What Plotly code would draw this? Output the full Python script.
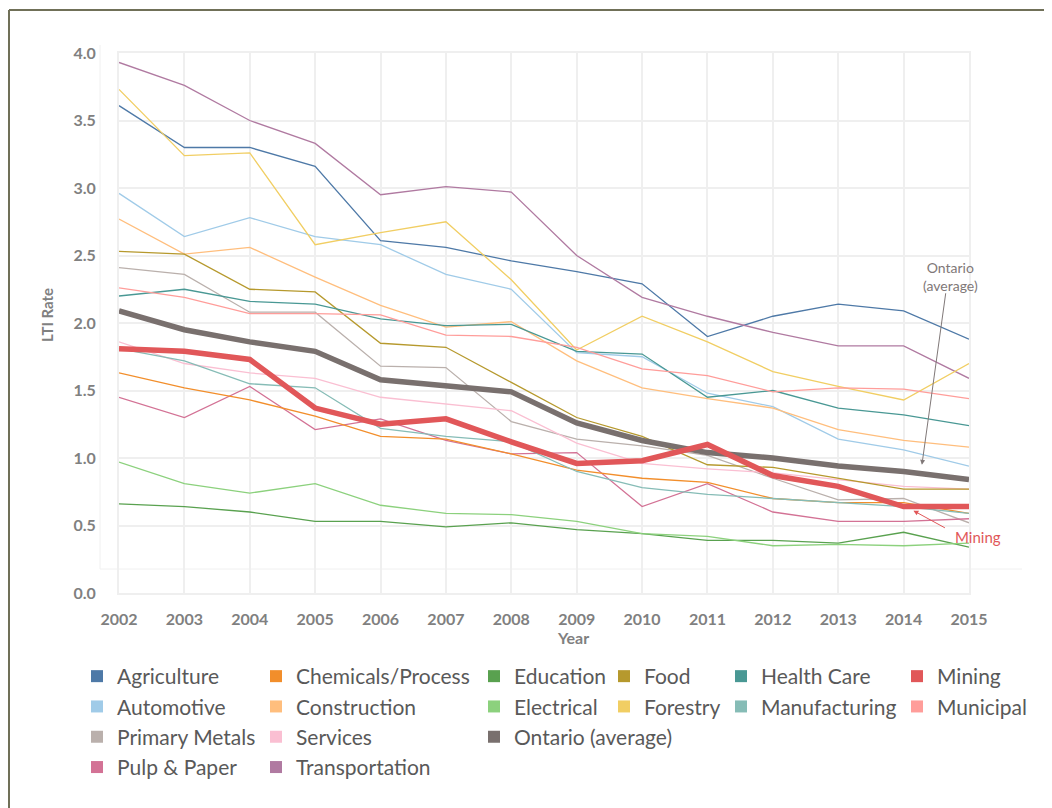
import plotly.graph_objects as go

years = list(range(2002, 2016))

agriculture = [3.61, 3.30, 3.30, 3.16, 2.61, 2.56, 2.46, 2.38, 2.29, 1.90, 2.05, 2.14, 2.09, 1.88]
automotive = [2.96, 2.64, 2.78, 2.64, 2.58, 2.36, 2.25, 1.78, 1.75, 1.48, 1.38, 1.14, 1.06, 0.94]
primary_metals = [2.41, 2.36, 2.08, 2.08, 1.68, 1.67, 1.27, 1.14, 1.09, 1.02, 0.85, 0.69, 0.70, 0.52]
pulp_paper = [1.45, 1.30, 1.53, 1.21, 1.29, 1.13, 1.03, 1.04, 0.64, 0.81, 0.60, 0.53, 0.53, 0.55]
chemicals = [1.63, 1.52, 1.43, 1.31, 1.16, 1.14, 1.03, 0.91, 0.85, 0.82, 0.70, 0.67, 0.67, 0.59]
construction = [2.77, 2.51, 2.56, 2.34, 2.13, 1.97, 2.01, 1.72, 1.52, 1.44, 1.37, 1.21, 1.13, 1.08]
services = [1.86, 1.70, 1.63, 1.59, 1.45, 1.40, 1.35, 1.11, 0.96, 0.92, 0.89, 0.84, 0.79, 0.77]
transportation = [3.93, 3.76, 3.50, 3.33, 2.95, 3.01, 2.97, 2.50, 2.19, 2.05, 1.93, 1.83, 1.83, 1.59]
education = [0.66, 0.64, 0.60, 0.53, 0.53, 0.49, 0.52, 0.47, 0.44, 0.39, 0.39, 0.37, 0.45, 0.34]
electrical = [0.97, 0.81, 0.74, 0.81, 0.65, 0.59, 0.58, 0.53, 0.44, 0.42, 0.35, 0.36, 0.35, 0.37]
food = [2.53, 2.51, 2.25, 2.23, 1.85, 1.82, 1.56, 1.30, 1.16, 0.95, 0.93, 0.85, 0.77, 0.77]
forestry = [3.73, 3.24, 3.26, 2.58, 2.67, 2.75, 2.32, 1.80, 2.05, 1.86, 1.64, 1.53, 1.43, 1.70]
health_care = [2.20, 2.25, 2.16, 2.14, 2.03, 1.98, 1.99, 1.79, 1.77, 1.45, 1.50, 1.37, 1.32, 1.24]
manufacturing = [1.81, 1.72, 1.55, 1.52, 1.22, 1.16, 1.12, 0.90, 0.78, 0.73, 0.70, 0.67, 0.64, 0.59]
mining = [1.81, 1.79, 1.73, 1.37, 1.25, 1.29, 1.12, 0.96, 0.98, 1.10, 0.87, 0.79, 0.64, 0.64]
municipal = [2.26, 2.19, 2.07, 2.07, 2.06, 1.91, 1.90, 1.82, 1.66, 1.61, 1.49, 1.52, 1.51, 1.44]
ontario = [2.09, 1.95, 1.86, 1.79, 1.58, 1.53, 1.49, 1.26, 1.13, 1.04, 1.00, 0.94, 0.90, 0.84]

y_ticks = [0, 0.5, 1, 1.5, 2, 2.5, 3, 3.5, 4]
y_tick_labels = ["0.0", "0.5", "1.0", "1.5", "2.0", "2.5", "3.0", "3.5", "4.0"]

# name, values, colour, legend column
series = [
    ("Agriculture", agriculture, "#4E79A7", "legend"),
    ("Automotive", automotive, "#A0CBE8", "legend"),
    ("Primary Metals", primary_metals, "#BAB0AC", "legend"),
    ("Pulp & Paper", pulp_paper, "#D37295", "legend"),
    ("Chemicals/Process", chemicals, "#F28E2B", "legend2"),
    ("Construction", construction, "#FFBE7D", "legend2"),
    ("Services", services, "#FABFD2", "legend2"),
    ("Transportation", transportation, "#B07AA1", "legend2"),
    ("Education", education, "#59A14F", "legend3"),
    ("Electrical", electrical, "#8CD17D", "legend3"),
    ("Ontario (average)", ontario, "#79706E", "legend3"),
    ("Food", food, "#B6992D", "legend4"),
    ("Forestry", forestry, "#F1CE63", "legend4"),
    ("Health Care", health_care, "#499894", "legend5"),
    ("Manufacturing", manufacturing, "#86BCB6", "legend5"),
    ("Mining", mining, "#E15759", "legend6"),
    ("Municipal", municipal, "#FF9D9A", "legend6"),
]

fig = go.Figure()

# thin lines first, the two highlighted ones on top
thick = {"Ontario (average)": 5.5, "Mining": 5.5}
order = [s for s in series if s[0] not in thick] + [s for s in series if s[0] == "Ontario (average)"] \
    + [s for s in series if s[0] == "Mining"]
for name, vals, col, _ in order:
    fig.add_trace(go.Scatter(
        x=years, y=vals, mode="lines", name=name, showlegend=False,
        line=dict(color=col, width=thick.get(name, 1.3)),
        hoverinfo="skip",
    ))

# square swatches for the legend
for name, vals, col, leg in series:
    fig.add_trace(go.Scatter(
        x=[None], y=[None], mode="markers", name=name, legend=leg,
        marker=dict(symbol="square", size=12, color=col),
    ))

# the page body has an 8px margin, so the figure is drawn 8px in from the corner
OFF = 8
W, H = 1052 - OFF, 808 - OFF
L, R, T, B = 119, 969, 53, 593  # plot area in screen pixels


def px(x):
    return (x - L) / (R - L)


def py(y):
    return (B - y) / (B - T)


grid = "#efefef"
tick_font = dict(family="Lato", size=16, color="#808080", weight="bold")
leg_font = dict(family="Lato", size=21, color="#595959")

legend_cols = {"legend": 77, "legend2": 256, "legend3": 474, "legend4": 604, "legend5": 721, "legend6": 897}
layout_legends = {}
for key, xpix in legend_cols.items():
    layout_legends[key] = dict(
        x=px(xpix), y=py(656), xanchor="left", yanchor="top",
        orientation="v", font=leg_font, bgcolor="rgba(0,0,0,0)", borderwidth=0,
        itemclick=False, itemdoubleclick=False,
    )

fig.update_layout(
    width=W, height=H,
    margin=dict(l=L - OFF, r=W - (R - OFF), t=T - OFF, b=H - (B - OFF)),
    paper_bgcolor="white", plot_bgcolor="white",
    font=dict(family="Lato"),
    **layout_legends,
)

fig.update_xaxes(
    range=[2002, 2015], tickmode="array", tickvals=years, ticktext=[str(y) for y in years],
    showgrid=True, gridcolor=grid, gridwidth=2, zeroline=False,
    showline=True, linecolor=grid, linewidth=2, mirror=True,
    tickfont=tick_font, ticks="", ticklabelstandoff=11,
)
fig.update_yaxes(
    range=[0, 4], tickmode="array", tickvals=y_ticks, ticktext=y_tick_labels,
    showgrid=True, gridcolor=grid, gridwidth=2, zeroline=False,
    showline=True, linecolor=grid, linewidth=2, mirror=True,
    tickfont=tick_font, ticks="", ticklabelstandoff=18,
)

# outer frame (open at the bottom, as in the picture) and faint inner frame
frame = dict(color="#707058", width=2)
fig.add_shape(type="line", xref="paper", yref="paper", x0=px(9), x1=px(1045), y0=py(10), y1=py(10),
              line=frame, layer="below")
fig.add_shape(type="line", xref="paper", yref="paper", x0=px(9), x1=px(9), y0=py(10), y1=py(808),
              line=frame, layer="below")
fig.add_shape(type="line", xref="paper", yref="paper", x0=px(1045), x1=px(1045), y0=py(10), y1=py(808),
              line=frame, layer="below")
fig.add_shape(type="line", xref="paper", yref="paper",
              x0=px(100), x1=px(100), y0=py(569), y1=py(45),
              line=dict(color="#f0f0f0", width=1), layer="below")
fig.add_shape(type="line", xref="paper", yref="paper",
              x0=px(100), x1=px(1022), y0=py(569), y1=py(569),
              line=dict(color="#f0f0f0", width=1), layer="below")

fig.add_annotation(text="Year", xref="paper", yref="paper", x=px(573), y=py(637),
                   xanchor="center", yanchor="middle", showarrow=False,
                   font=dict(family="Lato", size=16, color="#808080", weight="bold"))
fig.add_annotation(text="LTI Rate", xref="paper", yref="paper", x=px(47), y=py(315),
                   xanchor="center", yanchor="middle", textangle=-90, showarrow=False,
                   font=dict(family="Lato", size=15, color="#808080", weight="bold"))

callout = "#807878"
fig.add_annotation(text="Ontario<br>(average)", xref="paper", yref="paper", x=px(950), y=py(276),
                   xanchor="center", yanchor="middle", showarrow=False,
                   font=dict(family="Lato", size=14, color=callout))
fig.add_annotation(text="", x=2014.28, y=0.95, xref="x", yref="y",
                   ax=24, ay=-173, showarrow=True, arrowhead=2, arrowsize=1, arrowwidth=1,
                   arrowcolor=callout)
fig.add_annotation(text="Mining", xref="paper", yref="paper", x=px(978), y=py(537),
                   xanchor="center", yanchor="middle", showarrow=False,
                   font=dict(family="Lato", size=15, color="#E15759"))
fig.add_annotation(text="", x=2014.15, y=0.61, xref="x", yref="y",
                   ax=33, ay=18, showarrow=True, arrowhead=2, arrowsize=1, arrowwidth=1,
                   arrowcolor="#E15759")

fig.write_html("out.html")
